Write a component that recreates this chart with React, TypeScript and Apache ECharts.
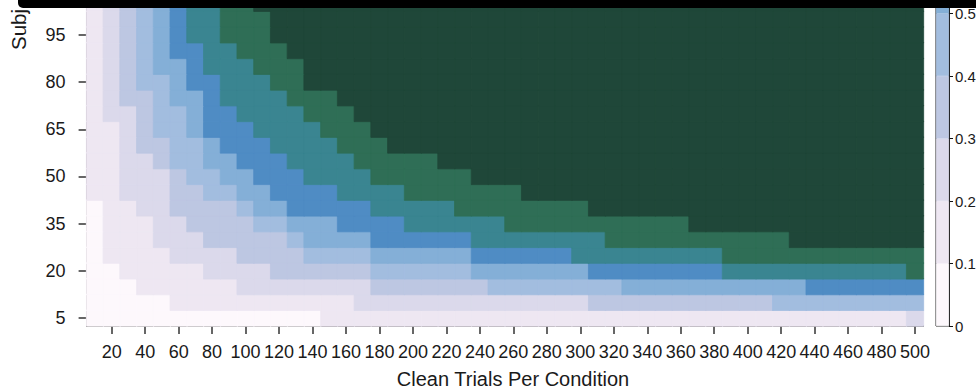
import React, { useEffect, useRef } from "react";
import * as echarts from "echarts";

// Clean trials per condition (x categories)
const trials = [
  10, 20, 30, 40, 50, 60, 70, 80, 90, 100,
  110, 120, 130, 140, 150, 160, 170, 180, 190, 200,
  210, 220, 230, 240, 250, 260, 270, 280, 290, 300,
  310, 320, 330, 340, 350, 360, 370, 380, 390, 400,
  410, 420, 430, 440, 450, 460, 470, 480, 490, 500,
];

// Subjects (y categories, bottom to top; the top of the figure is cropped)
const subjects = [5, 10, 15, 20, 25, 30, 35, 40, 45, 50, 55, 60, 65, 70, 75, 80, 85, 90, 95, 100, 105];

// Power bin read from each cell (0 = 0-0.1, 1 = 0.1-0.2, ... 9 = 0.9-1.0), one string per subjects row, columns 10..500
const powerBinRows = [
  "00000000000000111111111111111111111111111111111112", // 5
  "00000111111111112222222222222233333333333444444444", // 10
  "00011111122222222333333344444444555555555556666666", // 15
  "00111112222333333444444555555566666666777777777778", // 20
  "01111222233334444555555666666777777777888888888888", // 25
  "01112223333345555666666777777778888888888899999999", // 30
  "01112233334455566667777778888888888899999999999999", // 35
  "01122333345566666777778888888899999999999999999999", // 40
  "11222334455666677778888888999999999999999999999999", // 45
  "11222344556667777888888999999999999999999999999999", // 50
  "11223445566677778888899999999999999999999999999999", // 55
  "11233445666777788899999999999999999999999999999999", // 60
  "11234456667777888999999999999999999999999999999999", // 65
  "12234456677778889999999999999999999999999999999999", // 70
  "12334556777788899999999999999999999999999999999999", // 75
  "12344566777889999999999999999999999999999999999999", // 80
  "12345567778889999999999999999999999999999999999999", // 85
  "12345667788899999999999999999999999999999999999999", // 90
  "12345677888999999999999999999999999999999999999999", // 95
  "12345677888999999999999999999999999999999999999999", // 100
  "12345677889999999999999999999999999999999999999999", // 105
];

// Colour scale (power bins)
const binEdges = [0, 0.1, 0.2, 0.3, 0.4, 0.5, 0.6, 0.7, 0.8, 0.9, 1.0];
const binColors = [
  "#fdf8fc",
  "#eee7f2",
  "#dbd9eb",
  "#bdc7e2",
  "#a2bddf",
  "#84afd7",
  "#4f8cc4",
  "#3a8591",
  "#2f6e56",
  "#1f4739",
];
const colorbarTicks = [0, 0.1, 0.2, 0.3, 0.4, 0.5];

const FONT = "'Liberation Sans', Arial, Helvetica, sans-serif";
const INK = "#1a1a1a";

export default function App() {
  const ref = useRef<HTMLDivElement>(null);

  useEffect(() => {
    if (!ref.current) return;
    const chart = echarts.init(ref.current, undefined, { renderer: "svg" });

    const data: any[] = [];
    powerBinRows.forEach((row, yi) => {
      for (let xi = 0; xi < trials.length; xi++) {
        const bin = Number(row[xi]);
        data.push({
          value: [xi, yi, (binEdges[bin] + binEdges[bin + 1]) / 2],
          itemStyle: { borderColor: binColors[bin], borderWidth: 0.8 },
        });
      }
    });

    const pieces = binColors.map((c, i) =>
      i === binColors.length - 1
        ? { gte: binEdges[i], lte: binEdges[i + 1], color: c }
        : { gte: binEdges[i], lt: binEdges[i + 1], color: c }
    );

    const colorbarSeries = binColors.map((c, i) => ({
      type: "bar",
      xAxisIndex: 1,
      yAxisIndex: 1,
      stack: "cb",
      silent: true,
      barWidth: "100%",
      data: [binEdges[i + 1] - binEdges[i]],
      itemStyle: { color: c, borderColor: c, borderWidth: 0.5 },
    }));

    const option: any = {
      animation: false,
      backgroundColor: "#ffffff",
      textStyle: { fontFamily: FONT },
      grid: [
        { left: 86.6, top: -4.5, width: 836.8, height: 330.5, outerBoundsMode: "none", containLabel: false },
        {
          left: 936, top: 0, width: 13, height: 326,
          outerBoundsMode: "none", containLabel: false,
          show: true, borderColor: "#111", borderWidth: 1, backgroundColor: "transparent",
        },
      ],
      xAxis: [
        {
          type: "category",
          gridIndex: 0,
          data: trials.map(String),
          axisLine: { show: true, lineStyle: { color: "#333", width: 1.5 } },
          axisTick: {
            show: true,
            alignWithLabel: true,
            length: 8,
            interval: (i: number) => i % 2 === 1,
            lineStyle: { color: "#333", width: 1.5 },
          },
          axisLabel: {
            interval: (i: number) => i % 2 === 1,
            fontSize: 18,
            color: INK,
            margin: 17,
            fontFamily: FONT,
          },
          splitLine: { show: false },
          name: "Clean Trials Per Condition",
          nameLocation: "middle",
          nameGap: 43,
          nameTextStyle: { fontSize: 20, color: INK, fontFamily: FONT, padding: [0, 0, 0, 16] },
        },
        { type: "category", gridIndex: 1, data: ["cb"], show: false },
      ],
      yAxis: [
        {
          type: "category",
          gridIndex: 0,
          data: subjects.map(String),
          axisLine: { show: true, lineStyle: { color: "#333", width: 1.5 } },
          axisTick: {
            show: true,
            alignWithLabel: true,
            length: 8,
            interval: 2,
            lineStyle: { color: "#333", width: 1.5 },
          },
          axisLabel: { interval: 2, fontSize: 18, color: INK, margin: 21, fontFamily: FONT },
          splitLine: { show: false },
        },
        {
          type: "value",
          gridIndex: 1,
          position: "right",
          min: 0,
          max: 0.5216,
          axisLine: { show: true, lineStyle: { color: "#111", width: 1 } },
          axisTick: { show: true, length: 4, customValues: colorbarTicks, lineStyle: { color: "#111" } },
          axisLabel: {
            customValues: colorbarTicks,
            fontSize: 15,
            color: INK,
            margin: 6,
            fontFamily: FONT,
            formatter: (v: number) => String(Math.round(v * 10) / 10),
          },
          splitLine: { show: false },
        },
      ],
      visualMap: {
        type: "piecewise",
        show: false,
        seriesIndex: 0,
        dimension: 2,
        pieces,
      },
      series: [
        {
          type: "heatmap",
          xAxisIndex: 0,
          yAxisIndex: 0,
          data,
          silent: true,
          emphasis: { disabled: true },
        },
        ...colorbarSeries,
      ],
      graphic: [
        {
          type: "text",
          x: 18,
          y: 50,
          rotation: Math.PI / 2,
          z: 50,
          style: {
            text: "Subj",
            fontSize: 20.5,
            fill: INK,
            fontFamily: FONT,
            align: "left",
            verticalAlign: "middle",
          },
        },
        {
          type: "rect",
          z: 100,
          shape: { x: 18, y: -8, width: 970, height: 16, r: 5 },
          style: { fill: "#000000" },
        },
      ],
    };

    chart.setOption(option);
    return () => chart.dispose();
  }, []);

  return (
    <div
      ref={ref}
      style={{ position: "fixed", left: 0, top: 0, width: 976, height: 392, background: "#fff" }}
    />
  );
}
